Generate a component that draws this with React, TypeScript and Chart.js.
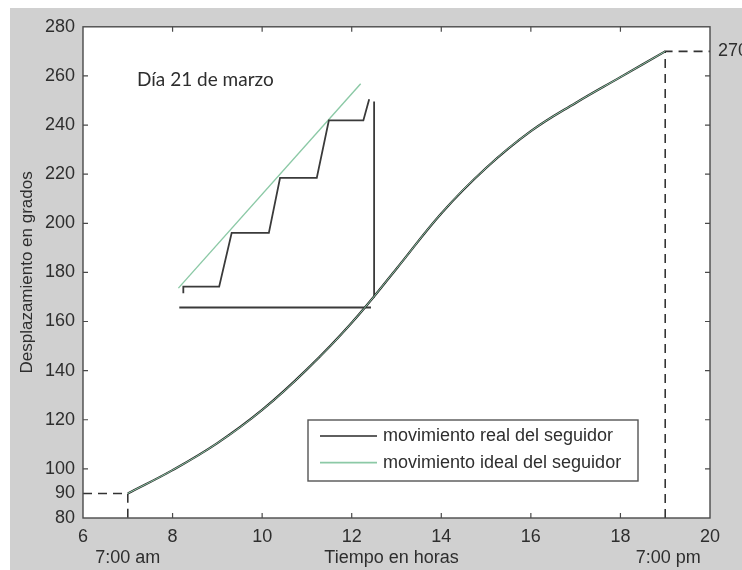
import React, { useEffect, useRef } from "react";
import { Chart, registerables } from "chart.js";

Chart.register(...registerables);

// ---- data ----
const hours = [7, 8, 9, 10, 11, 12, 13, 14, 15, 16, 17, 18, 19];
const realMovement = [90, 99.5, 110.5, 124, 140.5, 159.5, 181.5, 204, 222.5, 237.5, 249, 259.5, 270];
const idealMovement = [90, 99.5, 110.5, 124, 140.5, 159.5, 181.5, 204, 222.5, 237.5, 249, 259.5, 270];

const xTickValues = [6, 8, 10, 12, 14, 16, 18, 20];
const yTickValues = [80, 90, 100, 120, 140, 160, 180, 200, 220, 240, 260, 280];
const xTickMarks = [8, 10, 12, 14, 16, 18];
const yTickMarks = [100, 120, 140, 160, 180, 200, 220, 240, 260];

const startTime = 7;
const endTime = 19;
const startAngle = 90;
const endAngle = 270;
const startLabel = "7:00 am";
const endLabel = "7:00 pm";
const endAngleLabel = "270";

const realLabel = "movimiento real del seguidor";
const idealLabel = "movimiento ideal del seguidor";
const noteText = "Día 21 de marzo";
const xTitle = "Tiempo en horas";
const yTitle = "Desplazamiento en grados";

// inset sketch (staircase vs ideal), in data units
const insetStairX = [8.24, 8.24, 9.04, 9.32, 10.15, 10.4, 11.22, 11.49, 12.26, 12.39];
const insetStairY = [171.5, 174.2, 174.2, 196.1, 196.1, 218.5, 218.5, 241.9, 241.9, 250.5];
const insetIdealX = [8.13, 12.2];
const insetIdealY = [173.6, 256.8];
const insetVerticalX = [12.5, 12.5];
const insetVerticalY = [169.8, 249.6];
const insetBaseX = [8.15, 12.43];
const insetBaseY = [165.7, 165.7];

const FONT = "'Liberation Sans', Arial, sans-serif";
const TEXT = "#2e2e2e";
const BLACK = "#2a2a2a";
const GREEN = "#8cc9a6";

const zip = (xs: number[], ys: number[]) => xs.map((x, i) => ({ x, y: ys[i] }));

const matlabPlugin = {
  id: "matlabLook",
  beforeDraw(chart: any) {
    const { ctx, chartArea: a, width, height } = chart;
    ctx.save();
    ctx.fillStyle = "#d0d0d0";
    ctx.fillRect(0, 0, width, height);
    ctx.fillStyle = "#ffffff";
    ctx.fillRect(a.left, a.top, a.right - a.left, a.bottom - a.top);
    ctx.restore();
  },
  afterDraw(chart: any) {
    const { ctx, chartArea: a } = chart;
    const xs = chart.scales.x;
    const ys = chart.scales.y;
    ctx.save();
    // frame
    ctx.strokeStyle = "#4a4a4a";
    ctx.lineWidth = 1.4;
    ctx.strokeRect(a.left, a.top, a.right - a.left, a.bottom - a.top);
    // inward ticks
    ctx.lineWidth = 1.2;
    ctx.beginPath();
    xTickMarks.forEach((v) => {
      const px = xs.getPixelForValue(v);
      ctx.moveTo(px, a.bottom);
      ctx.lineTo(px, a.bottom - 5);
      ctx.moveTo(px, a.top);
      ctx.lineTo(px, a.top + 5);
    });
    yTickMarks.forEach((v) => {
      const py = ys.getPixelForValue(v);
      ctx.moveTo(a.left, py);
      ctx.lineTo(a.left + 5, py);
      ctx.moveTo(a.right, py);
      ctx.lineTo(a.right - 5, py);
    });
    ctx.stroke();

    // axis titles and extra labels
    ctx.fillStyle = TEXT;
    ctx.font = `18px ${FONT}`;
    ctx.textAlign = "center";
    ctx.textBaseline = "middle";
    ctx.fillText(xTitle, (a.left + a.right) / 2 - 5, a.bottom + 40);
    ctx.fillText(startLabel, xs.getPixelForValue(startTime), a.bottom + 40);
    ctx.fillText(endLabel, xs.getPixelForValue(endTime) + 3, a.bottom + 40);
    ctx.textAlign = "left";
    ctx.fillText(endAngleLabel, a.right + 8, ys.getPixelForValue(endAngle));
    ctx.save();
    ctx.translate(17, (a.top + a.bottom) / 2);
    ctx.rotate(-Math.PI / 2);
    ctx.textAlign = "center";
    ctx.font = `17px ${FONT}`;
    ctx.fillText(yTitle, 0, 0);
    ctx.restore();

    // note text
    ctx.font = "19px Lato, 'Open Sans', sans-serif";
    ctx.textAlign = "left";
    ctx.fillText(noteText, a.left + 54, a.top + 53);

    // legend box
    const bw = 330;
    const bh = 61;
    const bx = a.right - 72 - bw;
    const by = a.bottom - 37 - bh;
    ctx.fillStyle = "#ffffff";
    ctx.fillRect(bx, by, bw, bh);
    ctx.strokeStyle = "#555555";
    ctx.lineWidth = 1.4;
    ctx.strokeRect(bx, by, bw, bh);
    const items = chart.data.datasets.filter((d: any) => d.inLegend);
    items.sort((p: any, q: any) => p.legendIndex - q.legendIndex);
    ctx.font = `18px ${FONT}`;
    items.forEach((d: any, i: number) => {
      const y = by + 16 + i * 26.6;
      ctx.strokeStyle = d.borderColor;
      ctx.lineWidth = 1.6;
      ctx.beginPath();
      ctx.moveTo(bx + 12, y);
      ctx.lineTo(bx + 69, y);
      ctx.stroke();
      ctx.fillStyle = TEXT;
      ctx.fillText(d.label, bx + 75, y);
    });
    ctx.restore();
  },
};

export default function App() {
  const ref = useRef<HTMLCanvasElement | null>(null);

  useEffect(() => {
    document.body.style.margin = "0";
    document.body.style.overflow = "hidden";
    if (!ref.current) return;
    const dashStyle = {
      borderColor: "#333333",
      borderWidth: 1.6,
      borderDash: [9, 6],
      pointRadius: 0,
      tension: 0,
      fill: false,
      order: 3,
    };
    const sketch = {
      borderWidth: 1.8,
      pointRadius: 0,
      tension: 0,
      fill: false,
      order: 4,
    };
    const chart = new Chart(ref.current, {
      type: "line",
      data: {
        datasets: [
          {
            label: realLabel,
            data: zip(hours, realMovement),
            borderColor: BLACK,
            borderWidth: 2.2,
            pointRadius: 0,
            tension: 0.4,
            fill: false,
            order: 2,
            inLegend: true,
            legendIndex: 0,
          } as any,
          {
            label: idealLabel,
            data: zip(hours, idealMovement),
            borderColor: GREEN,
            borderWidth: 1,
            pointRadius: 0,
            tension: 0.4,
            fill: false,
            order: 1,
            inLegend: true,
            legendIndex: 1,
          } as any,
          {
            label: "inicio",
            data: [
              { x: xTickValues[0], y: startAngle },
              { x: startTime, y: startAngle },
              { x: startTime, y: yTickValues[0] },
            ],
            ...dashStyle,
          } as any,
          {
            label: "fin",
            data: [
              { x: endTime, y: yTickValues[0] },
              { x: endTime, y: endAngle },
              { x: xTickValues[xTickValues.length - 1], y: endAngle },
            ],
            ...dashStyle,
          } as any,
          { label: "escalera", data: zip(insetStairX, insetStairY), borderColor: "#3a3a3a", ...sketch } as any,
          { label: "ideal", data: zip(insetIdealX, insetIdealY), borderColor: GREEN, ...sketch, borderWidth: 1.4 } as any,
          { label: "vertical", data: zip(insetVerticalX, insetVerticalY), borderColor: "#3a3a3a", ...sketch } as any,
          { label: "base", data: zip(insetBaseX, insetBaseY), borderColor: "#3a3a3a", ...sketch } as any,
        ],
      },
      options: {
        animation: false,
        responsive: false,
        layout: { padding: { top: 17, right: 32, left: 0, bottom: 0 } },
        plugins: {
          legend: { display: false },
          tooltip: { enabled: false },
        },
        scales: {
          x: {
            type: "linear",
            min: xTickValues[0],
            max: xTickValues[xTickValues.length - 1],
            grid: { display: false, drawTicks: false },
            border: { display: false },
            afterBuildTicks: (s: any) => {
              s.ticks = xTickValues.map((v) => ({ value: v }));
            },
            afterFit: (s: any) => {
              s.height = 52;
            },
            ticks: {
              autoSkip: false,
              maxRotation: 0,
              padding: 8,
              color: TEXT,
              font: { family: FONT, size: 18 },
            },
          },
          y: {
            type: "linear",
            min: yTickValues[0],
            max: yTickValues[yTickValues.length - 1],
            grid: { display: false, drawTicks: false },
            border: { display: false },
            afterBuildTicks: (s: any) => {
              s.ticks = yTickValues.map((v) => ({ value: v }));
            },
            afterFit: (s: any) => {
              s.width = 73;
            },
            ticks: {
              autoSkip: false,
              padding: 8,
              color: TEXT,
              font: { family: FONT, size: 18 },
            },
          },
        },
      } as any,
      plugins: [matlabPlugin],
    });
    return () => chart.destroy();
  }, []);

  return (
    <div style={{ padding: "8px 0 0 10px", width: 732, height: 562 }}>
      <canvas ref={ref} width={732} height={562} style={{ display: "block" }} />
    </div>
  );
}
